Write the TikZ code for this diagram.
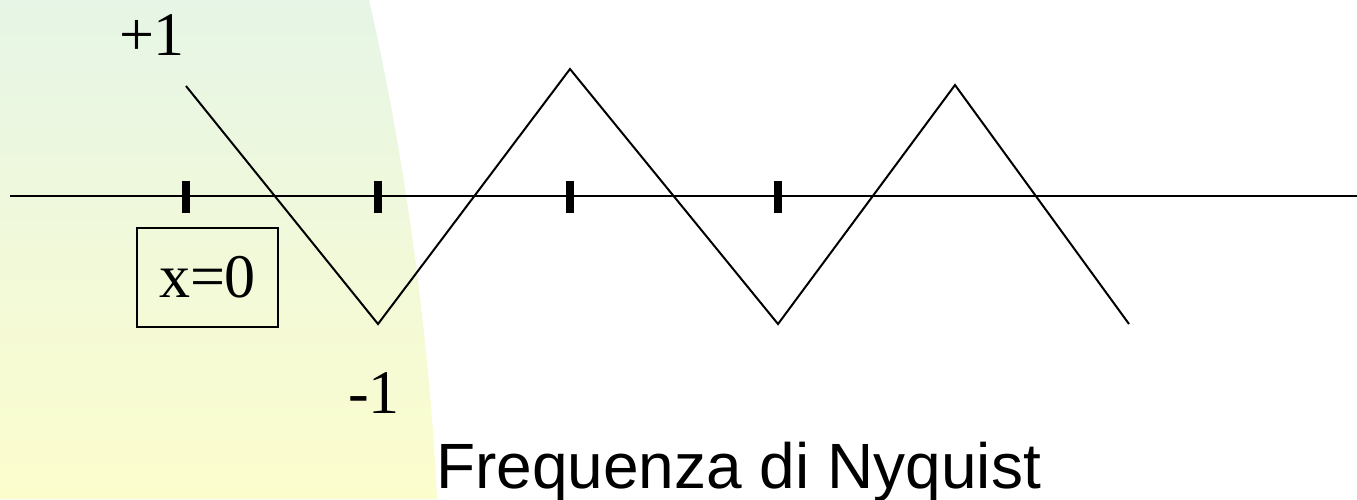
\documentclass[tikz,border=0pt]{standalone}
\usepackage{fontspec}
\setmainfont{Liberation Serif}
\newfontfamily\arialfont{Liberation Sans}
\definecolor{bgtop}{RGB}{230,245,230}
\definecolor{bgbot}{RGB}{252,253,205}
\begin{document}
\begin{tikzpicture}[x=1pt,y=-1pt,
  axisline/.style={line width=2pt},
  waveline/.style={line width=2pt, line join=miter},
  tickmark/.style={line width=8pt},
  seriflabel/.style={font=\fontsize{62}{66}\selectfont, inner sep=0pt},
  boxlabel/.style={draw, line width=2pt, font=\fontsize{62}{66}\selectfont, minimum width=141pt, minimum height=99pt, inner sep=0pt},
  titlelabel/.style={font=\arialfont\fontsize{64}{70}\selectfont, inner sep=0pt}
]
\useasboundingbox (0,0) rectangle (1357,499);
% background
\shade[top color=bgtop, bottom color=bgbot]
  (0,0) -- (369,0) .. controls (408,170) and (430,350) .. (437,499) -- (0,499) -- cycle;
% axis
\coordinate (axL) at (10,196);
\coordinate (axR) at (1357,196);
\draw[axisline] (axL) -- (axR);
% ticks
\foreach \n/\x in {t1/186,t2/378,t3/570,t4/778}{
  \coordinate (\n a) at (\x,181);
  \coordinate (\n b) at (\x,213);
  \draw[tickmark] (\n a) -- (\n b);
}
% wave
\coordinate (w0) at (186,86);
\coordinate (w1) at (378,324);
\coordinate (w2) at (570,69);
\coordinate (w3) at (778,324);
\coordinate (w4) at (955,85);
\coordinate (w5) at (1129,324);
\draw[waveline] (w0) -- (w1) -- (w2) -- (w3) -- (w4) -- (w5);
% labels
\node[seriflabel, anchor=base] (plus) at (152,55) {+1};
\node[seriflabel, anchor=base] (minus) at (374,413) {-1};
\node[boxlabel] (xbox) at (207.5,277.5) {x=0};
\node[titlelabel, anchor=base west] (title) at (436,488) {Frequenza di Nyquist};
\end{tikzpicture}
\end{document}
